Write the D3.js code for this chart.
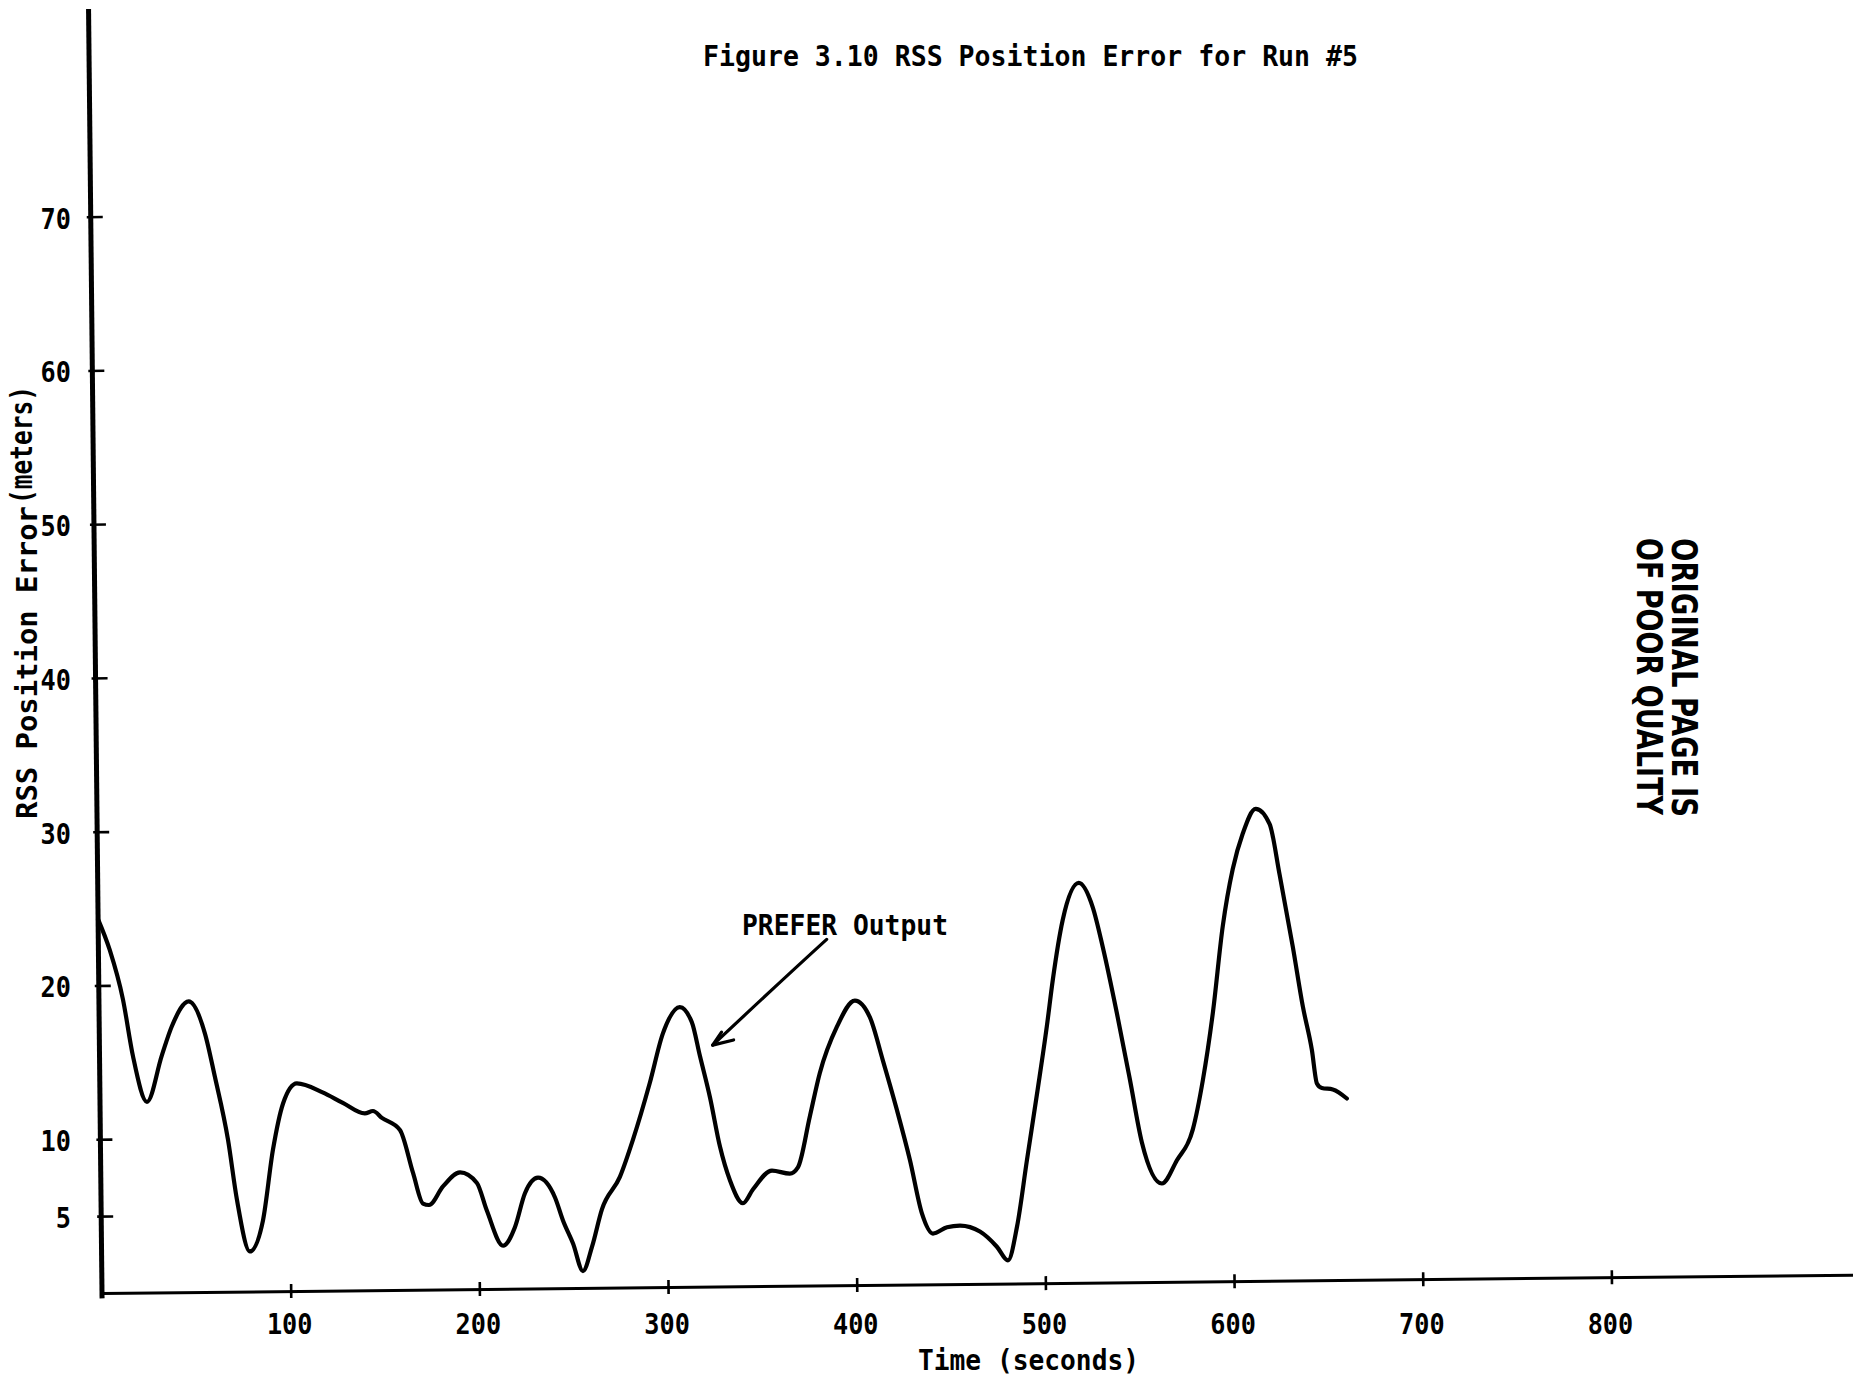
<!DOCTYPE html>
<html>
<head>
<meta charset="utf-8">
<script src="https://cdn.jsdelivr.net/npm/d3@7"></script>
<style>
  html, body { margin: 0; padding: 0; background: #fff; }
  svg { display: block; }
  text { font-family: "DejaVu Sans Mono", monospace; font-weight: bold; fill: #000; }
</style>
</head>
<body>
<svg id="chart" width="1853" height="1380"></svg>
<script>
// RSS position error (m) of the PREFER output versus time (s), run #5
const timeSec = [
  0, 6, 12.7, 17.7, 24.9, 33, 38.5, 47.6, 56, 61, 67.6, 72, 78.6, 85.7, 91.4, 97,
  104.4, 118, 128.7, 140.3, 144.6, 149.3, 158.8, 165.5, 170.6, 173.8, 181.3, 190.4,
  199.3, 204.4, 212.8, 219.2, 224.7, 231.7, 240.6, 244.7, 249.9, 255, 260, 265.4,
  275.1, 282.2, 291.5, 298.7, 307.8, 314.1, 318.2, 323.3, 328.3, 333.4, 340.2, 345.6,
  355.7, 365.2, 369.5, 376.1, 381.6, 390.9, 400.6, 408.5, 415.1, 422.2, 428.9, 435,
  440.7, 448.2, 455, 465.6, 474.5, 480.3, 485.3, 490.9, 497, 502.2, 505.6, 511.2,
  519.9, 527.2, 532.3, 539.4, 545.9, 551.9, 562.3, 570.4, 579, 584.6, 590.3, 596,
  601.6, 607.1, 614.1, 621.4, 626.4, 633, 638, 642.5, 645, 647.6, 653.4, 660.8
];
const rssError = [
  24.3, 22.3, 19.1, 15.4, 12.4, 15.4, 17.3, 18.9, 16.8, 14.0, 9.9, 6.0, 2.6, 4.6, 9.2, 12.2,
  13.5, 12.9, 12.2, 11.5, 11.65, 11.2, 10.4, 7.6, 5.6, 5.5, 6.7, 7.6,
  6.9, 5.1, 2.8, 4.0, 6.2, 7.2, 5.9, 4.4, 2.9, 1.1, 2.7, 5.1,
  7.2, 9.6, 13.3, 16.5, 18.2, 17.2, 15.0, 12.3, 9.1, 6.9, 5.4, 6.3,
  7.5, 7.3, 7.7, 11.0, 13.8, 16.8, 18.5, 17.4, 14.6, 11.4, 8.1, 4.6,
  3.3, 3.7, 3.8, 3.4, 2.4, 1.5, 3.7, 8.0, 12.6, 16.7, 19.7, 23.6,
  26.0, 24.4, 21.8, 17.5, 13.2, 9.1, 6.4, 7.9, 9.9, 13.1, 17.5, 23.1,
  26.8, 29.1, 30.7, 29.7, 26.4, 21.7, 17.8, 15.0, 12.8, 12.5, 12.4, 11.8
];
const xTickValues = [100, 200, 300, 400, 500, 600, 700, 800];
const yTickValues = [5, 10, 20, 30, 40, 50, 60, 70];
const xDomain = [0, 928];
const yDomain = [0, 83.5];

const titleText = "Figure 3.10 RSS Position Error for Run #5";
const xTitle = "Time (seconds)";
const yTitleMain = "RSS Position Error";
const yTitleUnit = "(meters)";
const seriesLabel = "PREFER Output";
// arrow from the label to the curve, in data units [time, error]
const arrowTail = [386, 22.5];
const arrowTip = [325, 15.7];
const stampLines = ["ORIGINAL PAGE IS", "OF POOR QUALITY"];

const svg = d3.select("#chart");
svg.append("rect").attr("width", 1853).attr("height", 1380).attr("fill", "#fff");

const origin = { x: 102, y: 1293 };
const tilt = -0.6; // plotter axes sit slightly skewed on the page

const x = d3.scaleLinear().domain(xDomain).range([0, 1751]);
const y = d3.scaleLinear().domain(yDomain).range([0, -1284]);

const plot = svg.append("g")
  .attr("transform", `translate(${origin.x},${origin.y}) rotate(${tilt})`);

// x axis with crossing ticks
const xAxisG = plot.append("g")
  .call(d3.axisBottom(x).tickValues(xTickValues).tickFormat("").tickSizeOuter(0));
xAxisG.select(".domain").attr("stroke", "#000").attr("stroke-width", 3);
xAxisG.selectAll(".tick line").attr("y1", -7).attr("y2", 7)
  .attr("stroke", "#000").attr("stroke-width", 2.6);

// y axis (heavy line, running a little past the x axis) with short ticks
const yAxisG = plot.append("g")
  .call(d3.axisLeft(y).tickValues(yTickValues).tickFormat("").tickSizeOuter(0));
yAxisG.select(".domain")
  .attr("d", `M0,${y(-0.35)}V${y(yDomain[1])}`)
  .attr("stroke", "#000").attr("stroke-width", 5);
yAxisG.selectAll(".tick line").attr("x1", -4).attr("x2", 12)
  .attr("stroke", "#000").attr("stroke-width", 2.6);

// error curve
const line = d3.line()
  .x(d => x(d[0]))
  .y(d => y(d[1]))
  .curve(d3.curveMonotoneX);
plot.append("path")
  .datum(d3.zip(timeSec, rssError))
  .attr("d", line)
  .attr("fill", "none")
  .attr("stroke", "#000")
  .attr("stroke-width", 4.2)
  .attr("stroke-linejoin", "round")
  .attr("stroke-linecap", "round");

// annotation arrow
const tail = [x(arrowTail[0]), y(arrowTail[1])];
const tip = [x(arrowTip[0]), y(arrowTip[1])];
const ctrl = [(tail[0] + tip[0]) / 2 + 8, (tail[1] + tip[1]) / 2 - 8];
plot.append("path")
  .attr("d", `M${tail[0]},${tail[1]} Q${ctrl[0]},${ctrl[1]} ${tip[0]},${tip[1]}`)
  .attr("fill", "none").attr("stroke", "#000").attr("stroke-width", 3.2)
  .attr("stroke-linecap", "round");
plot.append("path")
  .attr("d", `M${tip[0] + 9},${tip[1] - 13} L${tip[0]},${tip[1]} L${tip[0] + 21},${tip[1] - 5}`)
  .attr("fill", "none").attr("stroke", "#000").attr("stroke-width", 3.2)
  .attr("stroke-linecap", "round").attr("stroke-linejoin", "round");

// tick labels stay level on the page
function fit(sel, w) {
  return sel.attr("textLength", d => String(d).length * w).attr("lengthAdjust", "spacingAndGlyphs");
}
const xLabels = svg.append("g").attr("transform", `translate(${origin.x},1334)`);
fit(xLabels.selectAll("text").data(xTickValues).join("text")
  .attr("x", d => x(d) - 1)
  .attr("text-anchor", "middle")
  .attr("font-size", 29)
  .text(d => d), 15.2);

const yLabels = svg.append("g").attr("transform", `translate(71,${origin.y + 12})`);
fit(yLabels.selectAll("text").data(yTickValues).join("text")
  .attr("y", d => y(d))
  .attr("text-anchor", "end")
  .attr("font-size", 29)
  .text(d => d), 15.2);

// titles
svg.append("text")
  .attr("x", 703).attr("y", 66)
  .attr("font-size", 28)
  .attr("textLength", 655).attr("lengthAdjust", "spacingAndGlyphs")
  .text(titleText);

svg.append("text")
  .attr("x", 918).attr("y", 1370)
  .attr("font-size", 28)
  .attr("textLength", 221).attr("lengthAdjust", "spacingAndGlyphs")
  .text(xTitle);

svg.append("text")
  .attr("transform", "translate(37,819) rotate(-90)")
  .attr("font-size", 29)
  .attr("textLength", 313).attr("lengthAdjust", "spacingAndGlyphs")
  .text(yTitleMain);
svg.append("text")
  .attr("transform", "translate(32,504) rotate(-90)")
  .attr("font-size", 30)
  .attr("textLength", 118).attr("lengthAdjust", "spacingAndGlyphs")
  .text(yTitleUnit);

// series label
svg.append("text")
  .attr("x", 742).attr("y", 935)
  .attr("font-size", 29)
  .attr("textLength", 206).attr("lengthAdjust", "spacingAndGlyphs")
  .text(seriesLabel);

// page stamp, set sideways
svg.selectAll("text.stamp").data(stampLines).join("text")
  .attr("class", "stamp")
  .attr("transform", (d, i) => `translate(${1672 - i * 35},538) rotate(90)`)
  .style("font-family", "'DejaVu Sans', sans-serif")
  .attr("font-size", 35)
  .attr("fill", "#1c1c1c")
  .attr("textLength", (d, i) => i === 0 ? 279 : 277)
  .attr("lengthAdjust", "spacingAndGlyphs")
  .text(d => d);
</script>
</body>
</html>
